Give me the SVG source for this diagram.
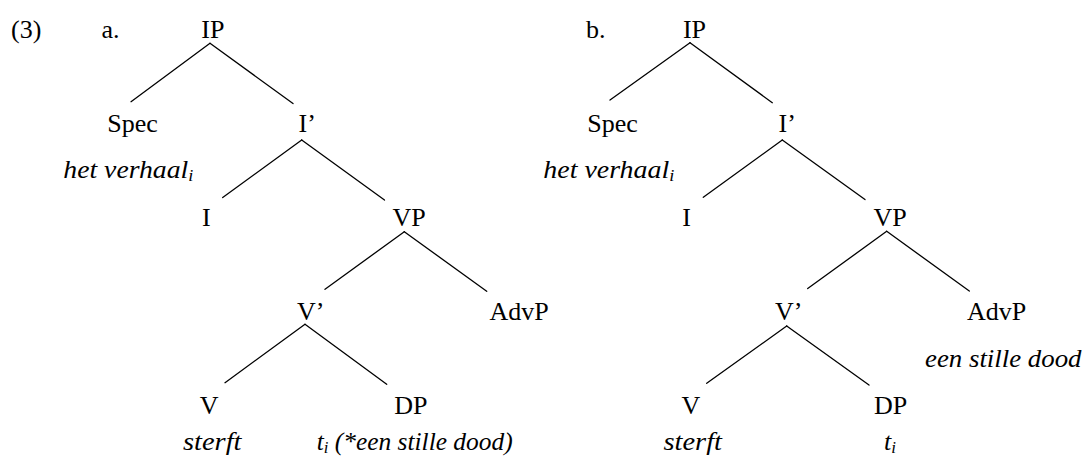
<svg xmlns="http://www.w3.org/2000/svg" width="1090" height="464" viewBox="0 0 1090 464">
<style>
text{font-family:"Liberation Serif","Times New Roman",serif;fill:#000}
.n{font-size:26px;text-anchor:middle}
.s{font-size:26px}
.it{font-size:26px;font-style:italic}
.sub{font-size:17px}
.e line{stroke:#000;stroke-width:1.3;stroke-linecap:round}
</style>
<rect width="1090" height="464" fill="#fff"/>
<g id="labels">
<text class="s" x="11" y="37.5">(3)</text>
<text class="s" x="101.5" y="37.5">a.</text>
<text class="s" x="586" y="37.5">b.</text>
</g>
<g class="e" id="connectors">
<line x1="210" y1="43.3" x2="131" y2="101.7"/>
<line x1="210" y1="43.3" x2="293" y2="103.5"/>
<line x1="301.7" y1="140" x2="222.7" y2="197.5"/>
<line x1="301.7" y1="140" x2="384.5" y2="200"/>
<line x1="404.3" y1="231.7" x2="325" y2="289.3"/>
<line x1="404.3" y1="231.7" x2="486.7" y2="291.3"/>
<line x1="305" y1="324.3" x2="225" y2="382.7"/>
<line x1="305" y1="324.3" x2="386.7" y2="384.3"/>
<line x1="690" y1="42.7" x2="610" y2="100"/>
<line x1="690" y1="42.7" x2="772.3" y2="102.7"/>
<line x1="782.3" y1="140" x2="703.3" y2="197.3"/>
<line x1="782.3" y1="140" x2="865" y2="199.5"/>
<line x1="886.7" y1="231.3" x2="807.7" y2="288.5"/>
<line x1="886.7" y1="231.3" x2="969.3" y2="291"/>
<line x1="786.7" y1="326" x2="706.7" y2="383.3"/>
<line x1="786.7" y1="326" x2="869" y2="385"/>
</g>
<g id="a-IP"><text class="n" x="212.9" y="37.5">IP</text></g>
<g id="a-Spec"><text class="n" x="132.5" y="132">Spec</text>
<text class="it" x="63.3" y="178" textLength="130" lengthAdjust="spacingAndGlyphs">het verhaal<tspan class="sub" dy="3">i</tspan></text></g>
<g id="a-Ibar"><text class="s" x="298.5" y="132">I’</text></g>
<g id="a-I"><text class="n" x="206.3" y="226">I</text></g>
<g id="a-VP"><text class="n" x="409.2" y="226">VP</text></g>
<g id="a-Vbar"><text class="s" x="297" y="320">V’</text></g>
<g id="a-AdvP"><text class="n" x="519" y="320">AdvP</text></g>
<g id="a-V"><text class="n" x="209.2" y="414">V</text>
<text class="it" x="183" y="450" textLength="58.5" lengthAdjust="spacingAndGlyphs">sterft</text></g>
<g id="a-DP"><text class="n" x="410.8" y="414">DP</text>
<text class="it" x="316.7" y="450" textLength="196" lengthAdjust="spacingAndGlyphs">t<tspan class="sub" dy="3">i</tspan><tspan dy="-3"> (*een stille dood)</tspan></text></g>
<g id="b-IP"><text class="n" x="694.5" y="37.5">IP</text></g>
<g id="b-Spec"><text class="n" x="612.5" y="132">Spec</text>
<text class="it" x="543.3" y="178" textLength="131" lengthAdjust="spacingAndGlyphs">het verhaal<tspan class="sub" dy="3">i</tspan></text></g>
<g id="b-Ibar"><text class="s" x="778.5" y="132">I’</text></g>
<g id="b-I"><text class="n" x="686.7" y="226">I</text></g>
<g id="b-VP"><text class="n" x="890" y="226">VP</text></g>
<g id="b-Vbar"><text class="s" x="775" y="320">V’</text></g>
<g id="b-AdvP"><text class="n" x="996.7" y="320">AdvP</text>
<text class="it" x="925" y="366.7" textLength="156.5" lengthAdjust="spacingAndGlyphs">een stille dood</text></g>
<g id="b-V"><text class="n" x="690.8" y="414">V</text>
<text class="it" x="663.5" y="450" textLength="58.5" lengthAdjust="spacingAndGlyphs">sterft</text></g>
<g id="b-DP"><text class="n" x="890.5" y="414">DP</text>
<text class="it" x="884" y="450">t<tspan class="sub" dy="3">i</tspan></text></g>
</svg>
